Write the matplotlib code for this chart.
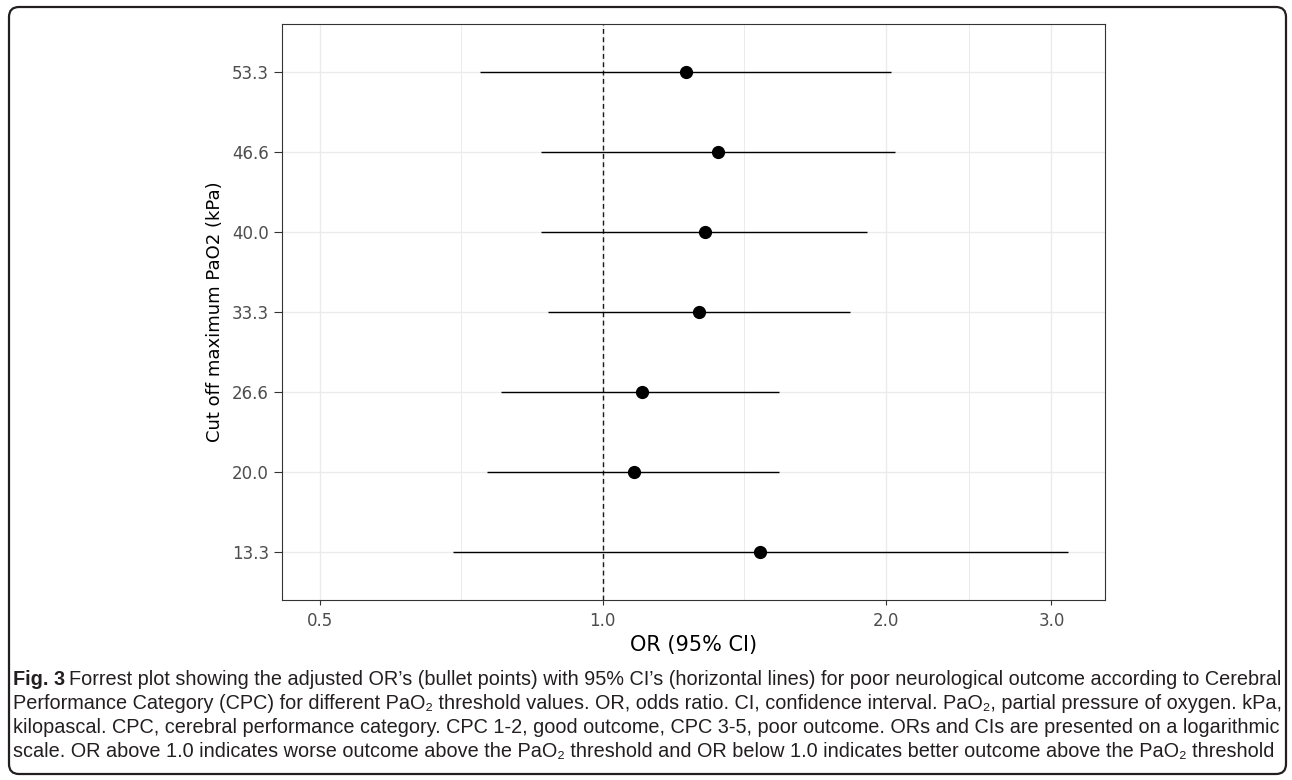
import matplotlib
matplotlib.use('Agg')
import matplotlib.pyplot as plt
from matplotlib.patches import FancyBboxPatch
from matplotlib.ticker import NullFormatter

# odds ratios (bottom row first)
cutoffs = ['13.3', '20.0', '26.6', '33.3', '40.0', '46.6', '53.3']
or_est = [1.47, 1.08, 1.10, 1.265, 1.285, 1.325, 1.225]
ci_low = [0.693, 0.754, 0.779, 0.874, 0.859, 0.859, 0.740]
ci_high = [3.12, 1.54, 1.54, 1.83, 1.91, 2.045, 2.025]

x_ticks = [0.5, 1.0, 2.0, 3.0]
x_ticklabels = ['0.5', '1.0', '2.0', '3.0']
x_minor = [0.7071, 1.4142, 2.4495]

caption_lines = [
    'Forrest plot showing the adjusted OR\u2019s (bullet points) with 95% CI\u2019s (horizontal lines) '
    'for poor neurological outcome according to Cerebral',
    'Performance Category (CPC) for different PaO\u2082 threshold values. OR, odds ratio. CI, confidence '
    'interval. PaO\u2082, partial pressure of oxygen. kPa,',
    'kilopascal. CPC, cerebral performance category. CPC 1-2, good outcome, CPC 3-5, poor outcome. '
    'ORs and CIs are presented on a logarithmic',
    'scale. OR above 1.0 indicates worse outcome above the PaO\u2082 threshold and OR below 1.0 '
    'indicates better outcome above the PaO\u2082 threshold',
]

W, H = 1292, 780
fig = plt.figure(figsize=(W / 100, H / 100), dpi=100)
fig.patch.set_facecolor('white')

# background axes in pixel units for the caption box
bg = fig.add_axes([0, 0, 1, 1], zorder=-1)
bg.set_xlim(0, W)
bg.set_ylim(H, 0)
bg.axis('off')
bg.add_patch(FancyBboxPatch((9, 7), 1277, 767, boxstyle='round,pad=0,rounding_size=10',
                            fill=False, edgecolor='#231f20', linewidth=1.6))

# forest plot panel
ax = fig.add_axes([282 / W, 1 - 600 / H, (1105 - 282) / W, (600 - 24) / H])
ax.set_xscale('log')
ax.set_xlim(0.456, 3.42)
ax.set_ylim(-0.6, 6.6)

ypos = list(range(len(cutoffs)))
ax.hlines(ypos, ci_low, ci_high, color='black', linewidth=1.0, zorder=3)
ax.plot(or_est, ypos, 'o', color='black', markersize=8.5, zorder=4)
ax.axvline(1.0, color='#1a1a1a', linewidth=1.0, dashes=(3.5, 2.5), zorder=2)

ax.set_xticks(x_ticks)
ax.set_xticklabels(x_ticklabels)
ax.set_xticks(x_minor, minor=True)
ax.xaxis.set_minor_formatter(NullFormatter())
ax.set_yticks(ypos)
ax.set_yticklabels(cutoffs)

ax.grid(True, which='major', color='#ebebeb', linewidth=1.0, zorder=0)
ax.grid(True, which='minor', axis='x', color='#ebebeb', linewidth=0.7, zorder=0)
ax.set_axisbelow(True)

ax.tick_params(axis='x', which='major', length=3.6, width=0.8, color='#333333',
               labelsize=12, labelcolor='#4d4d4d', pad=5)
ax.tick_params(axis='y', which='major', length=5.8, width=0.8, color='#333333',
               labelsize=12, labelcolor='#4d4d4d', pad=3.5)
ax.tick_params(axis='x', which='minor', length=0)
for s in ax.spines.values():
    s.set_color('#333333')
    s.set_linewidth(0.8)

ax.set_xlabel('OR (95% CI)', fontsize=15, labelpad=4)
ax.set_ylabel('Cut off maximum PaO2 (kPa)', fontsize=13, labelpad=6)

# caption, fitted to the width of the box
cap_font = ['Liberation Sans', 'DejaVu Sans']
baselines = [685, 709, 733, 757]
x0 = 13
right = 1280
size = 13
fig.canvas.draw()
r = fig.canvas.get_renderer()
t_bold = bg.text(x0, baselines[0], 'Fig. 3', fontweight='bold', family=cap_font,
                 fontsize=size, va='baseline', color='#231f20')
t_first = bg.text(x0, baselines[0], caption_lines[0], family=cap_font,
                  fontsize=size, va='baseline', color='#231f20')
for _ in range(3):
    t_bold.set_fontsize(size)
    t_first.set_fontsize(size)
    gap = size * 0.3
    w_total = t_bold.get_window_extent(r).width + gap + t_first.get_window_extent(r).width
    size = size * (right - x0) / w_total
t_bold.set_fontsize(size)
t_first.set_fontsize(size)
t_first.set_x(x0 + t_bold.get_window_extent(r).width + size * 0.3)
for line, yb in zip(caption_lines[1:], baselines[1:]):
    bg.text(x0, yb, line, family=cap_font, fontsize=size, va='baseline', color='#231f20')

fig.savefig('out.png', dpi=100)
